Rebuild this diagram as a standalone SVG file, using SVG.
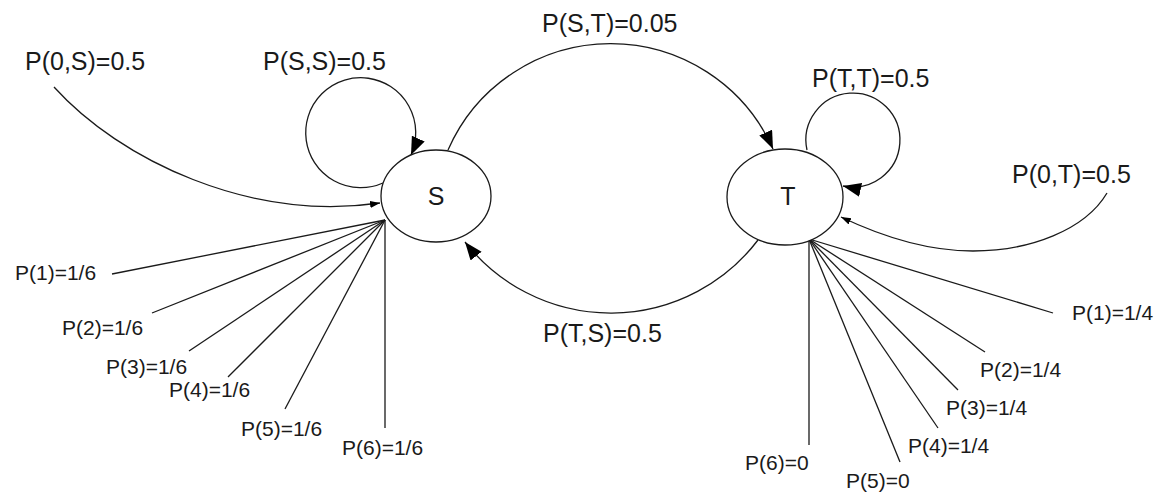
<svg xmlns="http://www.w3.org/2000/svg" width="1156" height="496" viewBox="0 0 1156 496">
  <style>
    .node { fill: #ffffff; stroke: #1a1a1a; stroke-width: 1.3; }
    .node-label { font-family: "Liberation Sans", Arial, sans-serif; font-size: 25px; fill: #1a1a1a; text-anchor: middle; }
    .edge { fill: none; stroke: #1a1a1a; stroke-width: 1.3; }
    .big { marker-end: url(#arrow-big); }
    .small { marker-end: url(#arrow-small); }
    .label { font-family: "Liberation Sans", Arial, sans-serif; font-size: 25px; fill: #1a1a1a; }
    .out { font-family: "Liberation Sans", Arial, sans-serif; font-size: 21px; fill: #1a1a1a; }
  </style>
  <defs>
    <marker id="arrow-big" markerUnits="userSpaceOnUse" markerWidth="19" markerHeight="15" refX="18" refY="7" orient="auto">
      <path d="M0,0 L18,7 L0,14 Z" fill="#000"/>
    </marker>
    <marker id="arrow-small" markerUnits="userSpaceOnUse" markerWidth="11" markerHeight="8" refX="10" refY="3.5" orient="auto">
      <path d="M0,0 L10,3.5 L0,7 Z" fill="#000"/>
    </marker>
  </defs>

  <!-- connectors -->
  <g id="connectors">
    <!-- start probabilities -->
    <path class="edge small" d="M54,87 C120,160 250,222 380,203"/>
    <path class="edge small" d="M1107,193 C1085,230 1030,251 973,251 C930,251 885,238 841,217"/>
    <!-- self loops -->
    <path class="edge big" d="M383,183 A55,55 0 1 1 411,155"/>
    <path class="edge big" d="M807,150 A47,47 0 1 1 843,186"/>
    <!-- transitions between states -->
    <path class="edge big" d="M448,150 A177.6,177.6 0 0 1 773,149"/>
    <path class="edge big" d="M758,240 A185,185 0 0 1 465,242"/>
    <!-- emission fan of S -->
    <g class="edge">
      <line x1="385" y1="220" x2="112" y2="274"/>
      <line x1="385" y1="220" x2="152" y2="313"/>
      <line x1="385" y1="220" x2="189" y2="351"/>
      <line x1="385" y1="220" x2="228" y2="377"/>
      <line x1="385" y1="220" x2="285" y2="409"/>
      <line x1="385" y1="220" x2="385" y2="428"/>
    </g>
    <!-- emission fan of T -->
    <g class="edge">
      <line x1="809" y1="239" x2="1053" y2="313"/>
      <line x1="809" y1="239" x2="985" y2="352"/>
      <line x1="809" y1="239" x2="958" y2="390"/>
      <line x1="809" y1="239" x2="938" y2="428"/>
      <line x1="809" y1="239" x2="900" y2="462"/>
      <line x1="809" y1="236" x2="809" y2="445"/>
    </g>
  </g>

  <!-- states -->
  <g id="node-S">
    <ellipse class="node" cx="436" cy="196" rx="55" ry="46"/>
    <text class="node-label" x="436" y="205">S</text>
  </g>
  <g id="node-T">
    <ellipse class="node" cx="785" cy="197" rx="58" ry="48"/>
    <text class="node-label" x="788" y="205">T</text>
  </g>

  <!-- transition labels -->
  <g id="labels">
    <text class="label" x="25" y="70">P(0,S)=0.5</text>
    <text class="label" x="263" y="70">P(S,S)=0.5</text>
    <text class="label" x="542" y="32">P(S,T)=0.05</text>
    <text class="label" x="812" y="87">P(T,T)=0.5</text>
    <text class="label" x="1012" y="183">P(0,T)=0.5</text>
    <text class="label" x="543" y="342">P(T,S)=0.5</text>
  </g>

  <!-- emission labels -->
  <g id="emissions-S">
    <text class="out" x="15" y="280">P(1)=1/6</text>
    <text class="out" x="62" y="335">P(2)=1/6</text>
    <text class="out" x="106" y="374">P(3)=1/6</text>
    <text class="out" x="169" y="397">P(4)=1/6</text>
    <text class="out" x="241" y="436">P(5)=1/6</text>
    <text class="out" x="342" y="455">P(6)=1/6</text>
  </g>
  <g id="emissions-T">
    <text class="out" x="1072" y="320">P(1)=1/4</text>
    <text class="out" x="980" y="377">P(2)=1/4</text>
    <text class="out" x="946" y="415">P(3)=1/4</text>
    <text class="out" x="908" y="453">P(4)=1/4</text>
    <text class="out" x="846" y="488">P(5)=0</text>
    <text class="out" x="745" y="470">P(6)=0</text>
  </g>
</svg>
